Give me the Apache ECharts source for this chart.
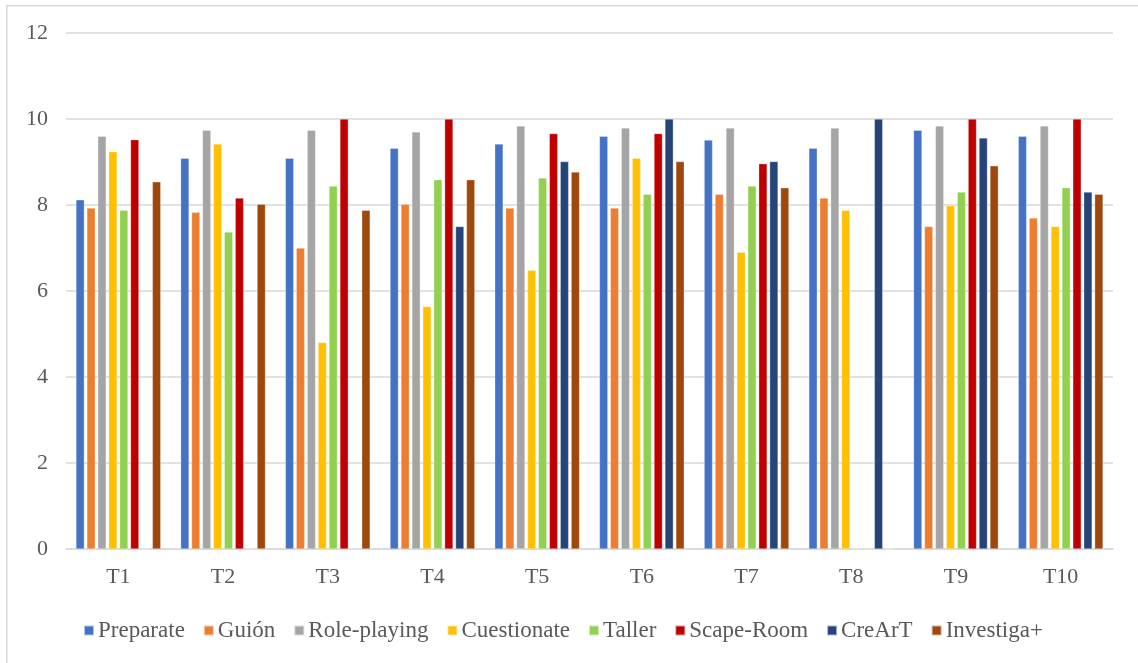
<!DOCTYPE html>
<html>
<head>
<meta charset="utf-8">
<script src="https://cdn.jsdelivr.net/npm/echarts@6/dist/echarts.min.js"></script>
<style>html,body{margin:0;padding:0;background:#fff}#c{width:1138px;height:663px}</style>
</head>
<body>
<div id="c"></div>
<script>
const categories = ['T1','T2','T3','T4','T5','T6','T7','T8','T9','T10'];
const preparate   = [8.12, 9.09, 9.09, 9.32, 9.42, 9.60, 9.51, 9.32, 9.74, 9.60];
const guion       = [7.93, 7.83, 7.00, 8.02, 7.93, 7.93, 8.25, 8.16, 7.50, 7.70];
const roleplaying = [9.60, 9.74, 9.74, 9.70, 9.84, 9.79, 9.79, 9.79, 9.84, 9.84];
const cuestionate = [9.24, 9.42, 4.80, 5.64, 6.48, 9.09, 6.90, 7.88, 7.98, 7.50];
const taller      = [7.88, 7.37, 8.44, 8.59, 8.63, 8.25, 8.44, 0, 8.30, 8.40];
const scaperoom   = [9.52, 8.16, 10, 10, 9.66, 9.66, 8.96, 0, 10, 10];
const creart      = [0, 0, 0, 7.50, 9.01, 10, 9.01, 10, 9.56, 8.30];
const investiga   = [8.54, 8.02, 7.88, 8.59, 8.77, 9.01, 8.40, 0, 8.91, 8.25];
const yTicks = [0, 2, 4, 6, 8, 10, 12];

const seriesDefs = [
  ['Preparate', preparate, '#4472C4'],
  ['Guión', guion, '#ED7D31'],
  ['Role-playing', roleplaying, '#A5A5A5'],
  ['Cuestionate', cuestionate, '#FFC000'],
  ['Taller', taller, '#92D050'],
  ['Scape-Room', scaperoom, '#C00000'],
  ['CreArT', creart, '#264478'],
  ['Investiga+', investiga, '#9E480E']
];

const chart = echarts.init(document.getElementById('c'));
const font = '"Liberation Serif", "Times New Roman", serif';
chart.setOption({
  animation: false,
  textStyle: {fontFamily: font},
  graphic: [{
    type: 'rect', left: 6, top: 5, z: -1,
    shape: {width: 1160, height: 700},
    style: {fill: '#fff', stroke: '#d9d9d9', lineWidth: 1.5}
  }],
  grid: {left: 66, right: 25, top: 33, bottom: 114, containLabel: false},
  legend: {
    top: 614, left: 78,
    itemWidth: 10, itemHeight: 10, itemGap: 18,
    icon: 'rect',
    textStyle: {fontFamily: font, fontSize: 23, color: '#595959', padding: [0,0,0,-1]},
    data: seriesDefs.map(d => d[0])
  },
  xAxis: {
    type: 'category', data: categories,
    axisLine: {lineStyle: {color: '#d9d9d9', width: 1.5}},
    axisTick: {show: false},
    axisLabel: {fontFamily: font, fontSize: 22, color: '#595959', margin: 17}
  },
  yAxis: {
    type: 'value', min: 0, max: 12, interval: 2,
    axisLine: {show: false}, axisTick: {show: false},
    axisLabel: {fontFamily: font, fontSize: 22, color: '#595959', margin: 18,
      formatter: v => yTicks.includes(v) ? String(v) : ''},
    splitLine: {lineStyle: {color: '#d9d9d9', width: 1.5}}
  },
  series: seriesDefs.map(d => ({
    name: d[0], type: 'bar', data: d[1],
    barGap: '30%', barCategoryGap: '19%',
    itemStyle: {color: d[2], borderColor: 'rgba(255,255,255,0.6)', borderWidth: 0.5}
  }))
});
</script>
</body>
</html>
